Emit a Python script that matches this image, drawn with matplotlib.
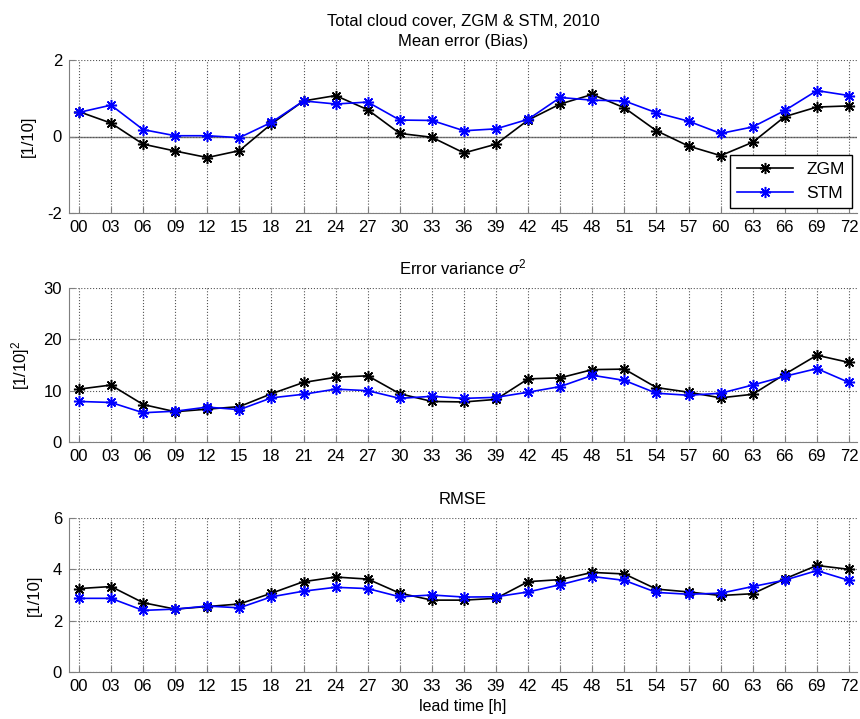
import matplotlib
matplotlib.use("Agg")
import matplotlib.pyplot as plt
import numpy as np

plt.rcParams['font.family'] = ['Liberation Sans', 'DejaVu Sans']
plt.rcParams['mathtext.fontset'] = 'custom'
plt.rcParams['mathtext.rm'] = 'Liberation Sans'
plt.rcParams['mathtext.it'] = 'Liberation Sans:italic'
plt.rcParams['axes.unicode_minus'] = False

lead = ['00', '03', '06', '09', '12', '15', '18', '21', '24', '27', '30', '33', '36',
        '39', '42', '45', '48', '51', '54', '57', '60', '63', '66', '69', '72']

bias_zgm = [0.65, 0.35, -0.2, -0.38, -0.55, -0.37, 0.33, 0.93, 1.07, 0.7, 0.08, -0.02, -0.43,
            -0.2, 0.43, 0.85, 1.1, 0.75, 0.15, -0.25, -0.5, -0.15, 0.52, 0.77, 0.8]
bias_stm = [0.63, 0.82, 0.18, 0.02, 0.02, -0.03, 0.37, 0.93, 0.85, 0.9, 0.43, 0.42, 0.15,
            0.2, 0.45, 1.02, 0.95, 0.93, 0.62, 0.4, 0.08, 0.25, 0.68, 1.2, 1.07]

var_zgm = [10.3, 11.1, 7.3, 5.9, 6.4, 6.9, 9.4, 11.6, 12.6, 12.9, 9.4, 7.9, 7.8,
           8.3, 12.3, 12.5, 14.1, 14.2, 10.6, 9.7, 8.6, 9.3, 13.2, 16.9, 15.5]
var_stm = [7.9, 7.7, 5.7, 6.0, 6.8, 6.3, 8.6, 9.3, 10.3, 10.0, 8.5, 8.9, 8.5,
           8.7, 9.7, 10.8, 13.0, 12.0, 9.5, 9.1, 9.5, 11.1, 12.8, 14.3, 11.6]

rmse_zgm = [3.25, 3.33, 2.7, 2.45, 2.55, 2.65, 3.07, 3.52, 3.7, 3.62, 3.07, 2.8, 2.8,
            2.87, 3.52, 3.6, 3.88, 3.82, 3.23, 3.12, 2.98, 3.05, 3.63, 4.15, 4.0]
rmse_stm = [2.87, 2.87, 2.4, 2.45, 2.57, 2.5, 2.93, 3.15, 3.3, 3.25, 2.93, 3.0, 2.92,
            2.93, 3.12, 3.4, 3.72, 3.57, 3.1, 3.03, 3.07, 3.33, 3.58, 3.95, 3.57]

x = np.arange(len(lead))
fig = plt.figure(figsize=(8.6, 7.19), dpi=100)

W, H = 860, 719
left, right = 69, 857
boxes = [(60, 213), (288, 442), (518, 672)]
panels = [
    (bias_zgm, bias_stm, (-2, 2), [-2, 0, 2], 'Total cloud cover, ZGM & STM, 2010\nMean error (Bias)', '[1/10]'),
    (var_zgm, var_stm, (0, 30), [0, 10, 20, 30], r'Error variance $\sigma^2$', r'[1/10]$^2$'),
    (rmse_zgm, rmse_stm, (0, 6), [0, 2, 4, 6], 'RMSE', '[1/10]'),
]
gc = '#7f7f7f'
fs = 11.5
ast = (8, 2, 0)  # MATLAB-like asterisk marker
for (top, bot), (z, s, ylim, yt, title, ylab) in zip(boxes, panels):
    ax = fig.add_axes([left / W, 1 - bot / H, (right - left) / W, (bot - top) / H])
    ax.plot(x, z, '-', marker=ast, color='black', lw=1.2, ms=8, mew=1.1, label='ZGM')
    ax.plot(x, s, '-', marker=ast, color='blue', lw=1.2, ms=8, mew=1.1, label='STM')
    if ylim[0] < 0:
        ax.axhline(0, color=gc, lw=1, zorder=1)
        ax.legend(loc='lower right', fontsize=fs + 1, frameon=True, fancybox=False,
                  edgecolor='black', framealpha=1, borderaxespad=0.3, handlelength=3.2)
    ax.set_xlim(-0.31, 24.25)
    ax.set_ylim(*ylim)
    ax.set_yticks(yt)
    ax.set_xticks(x)
    ax.set_xticklabels(lead)
    ax.grid(True, linestyle=':', color='#555555', lw=0.8)
    ax.tick_params(direction='in', length=4, color=gc, labelsize=fs + 0.5, pad=5)
    for sp in ax.spines.values():
        sp.set_color(gc)
    ax.spines['top'].set_visible(False)
    ax.spines['right'].set_visible(False)
    ax.set_title(title, fontsize=fs + 0.5, pad=10, linespacing=1.45)
    ax.set_ylabel(ylab, fontsize=fs + 0.5, labelpad=8)
ax.set_xlabel('lead time [h]', fontsize=fs, labelpad=4)

fig.savefig('out.png', dpi=100)
